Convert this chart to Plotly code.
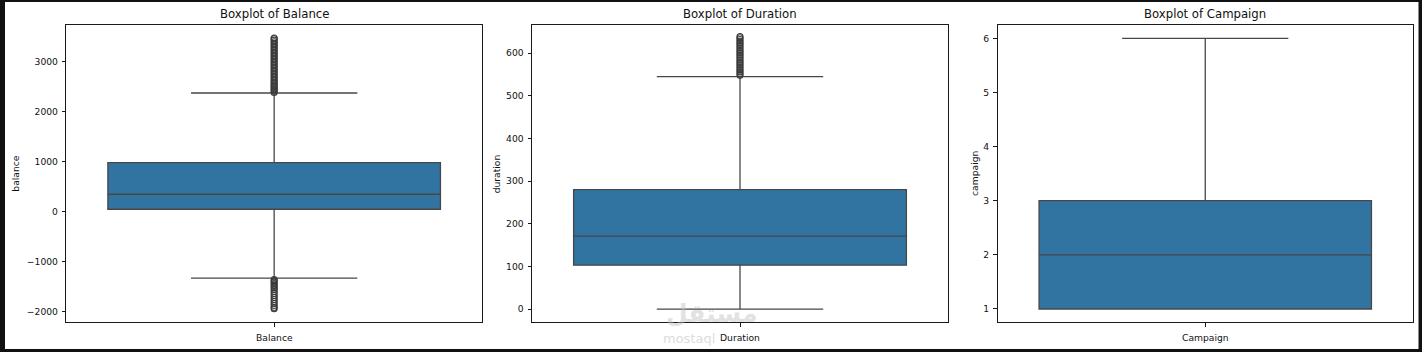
import plotly.graph_objects as go

W, H = 1422, 352

# ---------------- data ----------------
categories = ["Balance", "Duration", "Campaign"]
titles = ["Boxplot of Balance", "Boxplot of Duration", "Boxplot of Campaign"]
ylabels = ["balance", "duration", "campaign"]

q1 = [48, 103, 1]
median = [348, 171, 2]
q3 = [980, 280, 3]
lowerfence = [-1332, 0, 1]
upperfence = [2374, 545, 6]

balance_outliers = [2385, 2410, 2435, 2460, 2485, 2510, 2535, 2560, 2590, 2620,
                    2650, 2680, 2710, 2740, 2770, 2800, 2830, 2860, 2890, 2920,
                    2950, 2980, 3010, 3040, 3070, 3100, 3130, 3160, 3190, 3220,
                    3250, 3280, 3310, 3340, 3370, 3400, 3430, 3460, 3475,
                    -1360, -1385, -1410, -1440, -1470, -1500, -1530, -1560, -1600,
                    -1640, -1680, -1720, -1760, -1800, -1840, -1880, -1920, -1945]
duration_outliers = [548, 552, 556, 560, 564, 568, 572, 576, 580, 584, 588, 592,
                     596, 600, 604, 608, 612, 616, 620, 624, 628, 632, 636, 639]
campaign_outliers = []
outliers = [balance_outliers, duration_outliers, campaign_outliers]

yranges = [[-2215, 3735], [-31, 666], [0.754, 6.246]]
ytickvals = [[-2000, -1000, 0, 1000, 2000, 3000],
             [0, 100, 200, 300, 400, 500, 600],
             [1, 2, 3, 4, 5, 6]]
yticktext = [["\u22122000", "\u22121000", "0", "1000", "2000", "3000"],
             ["0", "100", "200", "300", "400", "500", "600"],
             ["1", "2", "3", "4", "5", "6"]]

# ---------------- layout geometry (pixels) ----------------
panel_x = [(66.3, 482.0), (532.0, 948.0), (997.5, 1413.0)]
plot_top, plot_bottom = 25.0, 322.3
ylabel_x = [16.0, 496.7, 974.3]

FONT = "DejaVu Sans"
BOX_FILL = "#3274a1"
LINE = "#474747"
SPINE = "#1a1a1a"

fig = go.Figure()

for i, cat in enumerate(categories):
    xa = "x" if i == 0 else f"x{i+1}"
    ya = "y" if i == 0 else f"y{i+1}"
    fig.add_trace(go.Box(
        x=[cat], q1=[q1[i]], median=[median[i]], q3=[q3[i]],
        lowerfence=[lowerfence[i]], upperfence=[upperfence[i]],
        fillcolor=BOX_FILL, line=dict(color=LINE, width=1.3),
        width=0.8, whiskerwidth=0.5, boxpoints=False,
        xaxis=xa, yaxis=ya, showlegend=False, hoverinfo="skip",
    ))
    if outliers[i]:
        fig.add_trace(go.Scatter(
            x=[cat] * len(outliers[i]), y=outliers[i], mode="markers",
            marker=dict(symbol="circle-open", size=6, color="#3a3a3a",
                        line=dict(width=1.1)),
            xaxis=xa, yaxis=ya, showlegend=False, hoverinfo="skip",
        ))

dom_y = [1 - plot_bottom / H, 1 - plot_top / H]
layout = dict(
    width=W, height=H,
    margin=dict(l=0, r=0, t=0, b=0, pad=0),
    paper_bgcolor="#111111", plot_bgcolor="white",
    font=dict(family=FONT, size=9.2, color="#111"),
    showlegend=False,
)
annotations = []
for i, cat in enumerate(categories):
    xk = "xaxis" if i == 0 else f"xaxis{i+1}"
    yk = "yaxis" if i == 0 else f"yaxis{i+1}"
    ya = "y" if i == 0 else f"y{i+1}"
    xa = "x" if i == 0 else f"x{i+1}"
    x0, x1 = panel_x[i]
    layout[xk] = dict(
        domain=[x0 / W, x1 / W], anchor=ya, type="category",
        range=[-0.5, 0.5], showline=True, mirror=True, linecolor=SPINE,
        linewidth=1, ticks="outside", ticklen=3.5, tickwidth=1, tickcolor=SPINE,
        showticklabels=False, showgrid=False, zeroline=False, fixedrange=True,
    )
    layout[yk] = dict(
        domain=dom_y, anchor=xa, range=yranges[i],
        tickvals=ytickvals[i], ticktext=yticktext[i],
        showline=True, mirror=True, linecolor=SPINE, linewidth=1,
        ticks="outside", ticklen=3.5, tickwidth=1, tickcolor=SPINE,
        ticklabelstandoff=2,
        tickfont=dict(family=FONT, size=9.2, color="#111"),
        showgrid=False, zeroline=False, fixedrange=True,
    )
    cx = (x0 + x1) / 2 / W
    annotations.append(dict(text=titles[i], x=cx, y=1 - 14.5 / H, xref="paper", yref="paper",
                            xanchor="center", yanchor="middle", showarrow=False,
                            font=dict(family=FONT, size=11.7, color="#111")))
    annotations.append(dict(text=ylabels[i], x=ylabel_x[i] / W, y=1 - (plot_top + plot_bottom) / 2 / H,
                            xref="paper", yref="paper", xanchor="center", yanchor="middle",
                            textangle=-90, showarrow=False,
                            font=dict(family=FONT, size=9.2, color="#111")))

# faint watermark (drawn first so the axis label sits on top)
wm = [
    dict(text="<b>مستقل</b>", x=711 / W, y=1 - 313 / H, xref="paper", yref="paper",
         xanchor="center", yanchor="middle", showarrow=False,
         font=dict(family="DejaVu Sans", size=25, color="rgba(190,190,190,0.45)")),
    dict(text="mostaql", x=689 / W, y=1 - 338 / H, xref="paper", yref="paper",
         xanchor="center", yanchor="middle", showarrow=False,
         font=dict(family="DejaVu Sans", size=13, color="rgba(190,190,190,0.55)")),
]
for i, cat in enumerate(categories):
    x0, x1 = panel_x[i]
    wm.append(dict(text=cat, x=(x0 + x1) / 2 / W, y=1 - 337.3 / H, xref="paper", yref="paper",
                   xanchor="center", yanchor="middle", showarrow=False,
                   font=dict(family=FONT, size=9.2, color="#111")))
layout["annotations"] = wm + annotations

layout["shapes"] = [dict(type="rect", xref="paper", yref="paper",
                         x0=5 / W, x1=1418.5 / W, y0=1 - 349 / H, y1=1 - 2 / H,
                         fillcolor="white", line=dict(width=0), layer="below")]

fig.update_layout(**layout)
fig.write_html("out.html")
